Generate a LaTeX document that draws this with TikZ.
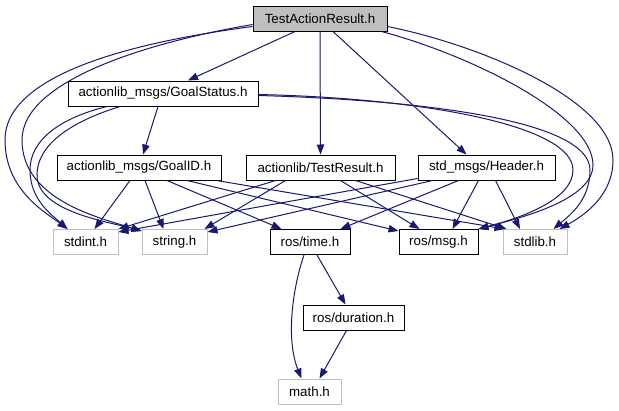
\documentclass[tikz,border=0pt]{standalone}
\usepackage{fontspec}
\setmainfont{Liberation Sans}
\usetikzlibrary{calc,arrows.meta}
\definecolor{edgecol}{HTML}{191970}
\definecolor{grayb}{HTML}{BFBFBF}
\begin{document}
\begin{tikzpicture}[x=0.75pt,y=-0.75pt,
  box/.style={draw=black,fill=white,line width=0.75pt,minimum height=18.75pt,inner sep=0pt,font=\fontsize{10}{12}\selectfont},
  gbox/.style={box,draw=grayb},
  e/.style={draw=edgecol,line width=0.75pt,-{Triangle[length=7.5pt,width=5.6pt]}}]
\useasboundingbox (0,0) rectangle (619,411);
\fill[white] (0,0) rectangle (619,411);
% nodes
\node[box,fill=grayb,minimum width=134*0.75pt] (TAR) at (320,18.5) {TestActionResult.h};
\node[box,minimum width=190*0.75pt] (GS) at (163,93.5) {actionlib\_msgs/GoalStatus.h};
\node[box,minimum width=164*0.75pt] (GI) at (139,167.5) {actionlib\_msgs/GoalID.h};
\node[box,minimum width=149*0.75pt] (TR) at (320.5,167.5) {actionlib/TestResult.h};
\node[box,minimum width=137*0.75pt] (HD) at (486.5,167.5) {std\_msgs/Header.h};
\node[gbox,minimum width=65*0.75pt] (SI) at (85.5,242) {stdint.h};
\node[gbox,minimum width=65*0.75pt] (ST) at (174.5,242) {string.h};
\node[box,minimum width=80*0.75pt] (TM) at (310,242) {ros/time.h};
\node[box,minimum width=79*0.75pt] (MS) at (438.5,242) {ros/msg.h};
\node[gbox,minimum width=64*0.75pt] (SL) at (535,242) {stdlib.h};
\node[box,minimum width=101*0.75pt] (DU) at (353.5,317.5) {ros/duration.h};
\node[gbox,minimum width=63*0.75pt] (MA) at (309.5,391.5) {math.h};
% TestActionResult.h
\draw[e] ($(TAR.south)+(-25,0)$) -- ($(GS.north)+(25,0)$);
\draw[e] (TAR.south) -- (TR.north);
\draw[e] ($(TAR.south)+(13,0)$) -- ($(HD.north)+(-20,0)$);
\draw[e] ($(TAR.west)+(0,8)$) .. controls (150,40) and (5,70) .. (5,140) .. controls (5,190) and (45,212) .. ($(SI.north west)+(15,0)$);
\draw[e] ($(TAR.west)+(0,6)$) .. controls (150,42) and (22,80) .. (22,140) .. controls (22,200) and (100,218) .. ($(ST.north west)+(0,2)$);
\draw[e] ($(TAR.east)+(0,8)$) .. controls (480,45) and (613,100) .. (613,160) .. controls (613,195) and (585,215) .. ($(SL.north east)+(-8,0)$);
\draw[e] ($(TAR.south east)+(-6,0)$) .. controls (470,55) and (593,115) .. (593,165) .. controls (593,200) and (520,218) .. (MS.north east);
% GoalStatus.h
\draw[e] ($(GS.south)+(-5,0)$) -- ($(GI.north)+(4,0)$);
\draw[e] ($(GS.south)+(-56,0)$) .. controls (60,118) and (30,140) .. (30,170) .. controls (30,200) and (52,215) .. ($(SI.north west)+(15,0)$);
\draw[e] ($(GS.south)+(-43,0)$) .. controls (70,122) and (37,145) .. (37,175) .. controls (37,212) and (110,222) .. ($(ST.north west)+(0,2)$);
\draw[e] ($(GS.east)+(0,2)$) .. controls (420,100) and (590,120) .. (590,170) .. controls (590,200) and (570,215) .. ($(SL.north east)+(-14,0)$);
\draw[e] ($(GS.east)+(0,1)$) .. controls (420,98) and (573,125) .. (573,170) .. controls (573,200) and (520,218) .. (MS.north east);
% GoalID.h
\draw[e] ($(GI.south)+(-9,0)$) -- ($(SI.north)+(9,0)$);
\draw[e] ($(GI.south)+(6,0)$) -- ($(ST.north)+(-11,0)$);
\draw[e] ($(GI.south)+(28,0)$) -- ($(TM.north west)+(12,0)$);
\draw[e] ($(GI.south)+(48,0)$) -- ($(MS.north west)+(0,2)$);
\draw[e] ($(GI.south east)+(-5,0)$) -- ($(SL.north west)+(2,0)$);
% TestResult.h
\draw[e] ($(TR.south west)+(30,0)$) -- (SI.north east);
\draw[e] ($(TR.south west)+(40,0)$) -- ($(ST.north east)+(-3,0)$);
\draw[e] ($(TR.south)+(20,0)$) -- ($(MS.north)+(-19,0)$);
\draw[e] ($(TR.south)+(35,0)$) -- ($(SL.north west)+(4,0)$);
% Header.h
\draw[e] ($(HD.south west)+(0,-2)$) -- ($(SI.north east)+(0,3)$);
\draw[e] ($(HD.south west)+(15,0)$) -- ($(ST.north east)+(0,3)$);
\draw[e] ($(HD.south)+(-28,0)$) -- ($(TM.north east)+(-10,0)$);
\draw[e] ($(HD.south)+(-8,0)$) -- ($(MS.north)+(14,0)$);
\draw[e] ($(HD.south)+(9,0)$) -- ($(SL.north)+(-15,0)$);
% time.h, duration.h
\draw[e] ($(TM.south)+(7,0)$) -- ($(DU.north)+(-8,0)$);
\draw[e] ($(TM.south)+(-6,0)$) .. controls (292,290) and (286,340) .. ($(MA.north)+(-8,0)$);
\draw[e] ($(DU.south)+(-7,0)$) -- ($(MA.north)+(10,0)$);
\end{tikzpicture}
\end{document}
